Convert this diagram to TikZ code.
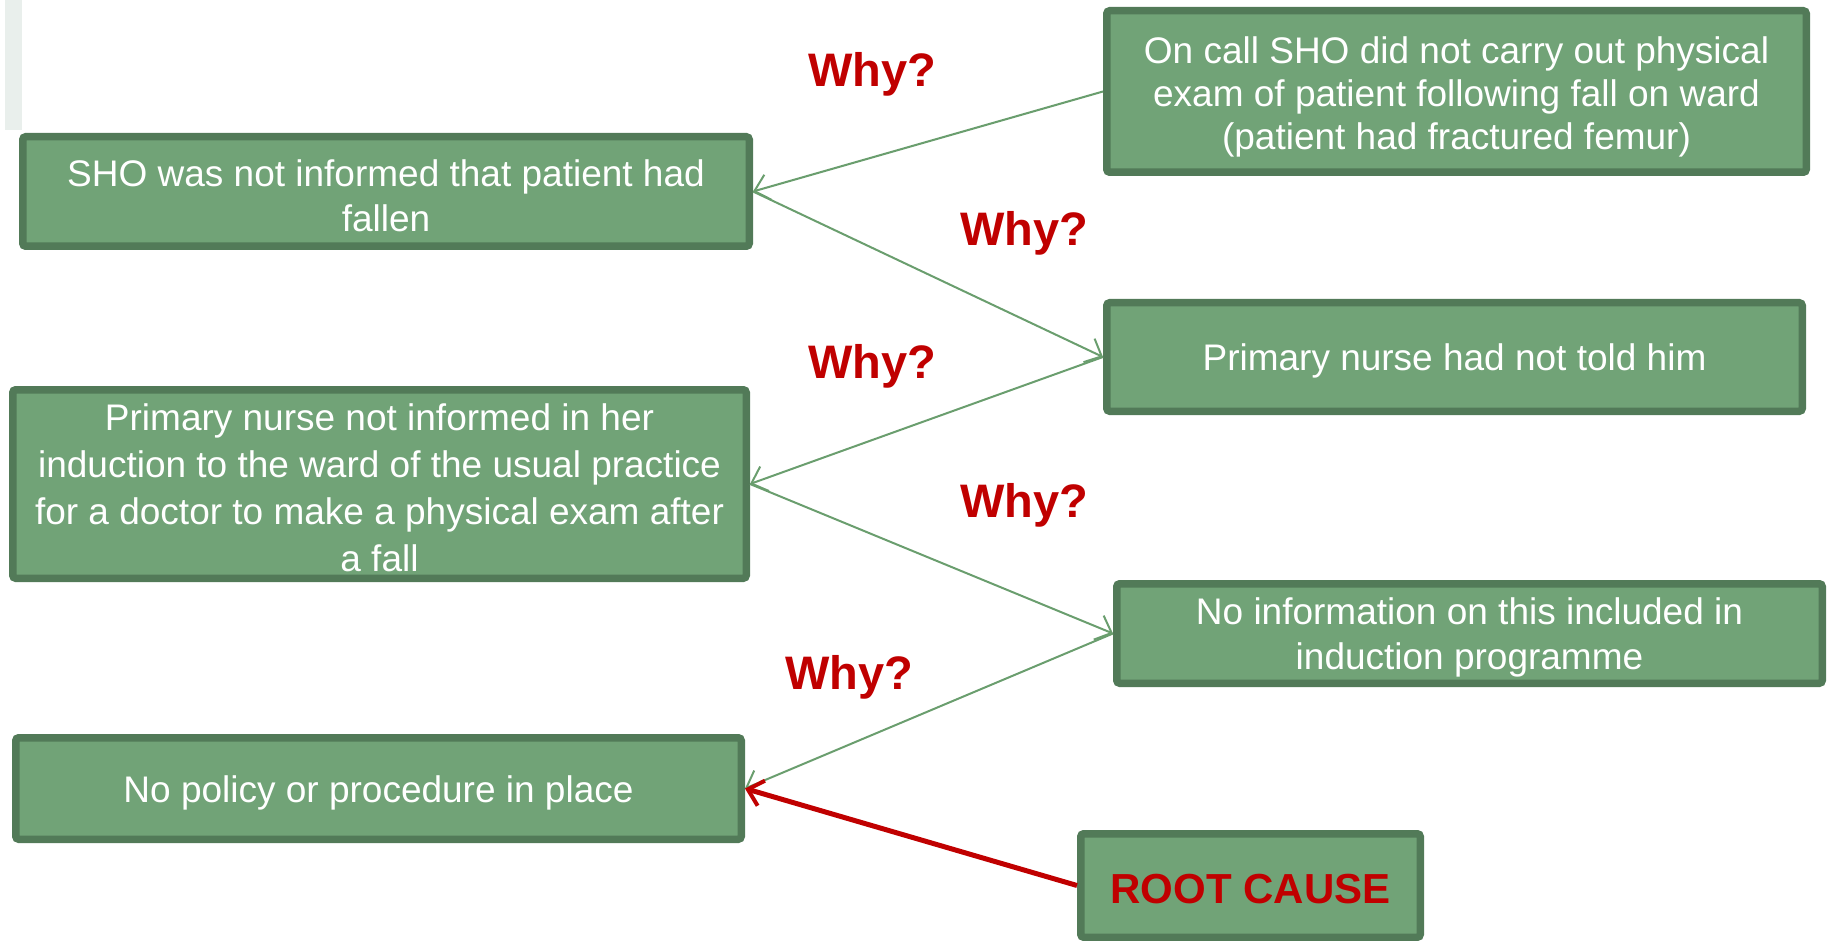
\documentclass[tikz,border=0pt]{standalone}
\usepackage{fontspec}
\setmainfont{Liberation Sans}
\usetikzlibrary{arrows.meta}

\definecolor{boxfill}{HTML}{71A377}
\definecolor{boxline}{HTML}{527A58}
\definecolor{linkgreen}{HTML}{6A9E6E}
\definecolor{whyred}{HTML}{C00000}
\definecolor{sidebar}{HTML}{E9EFEC}

\tikzset{
  causebox/.style={draw=boxline, fill=boxfill, line width=7.5pt,
    rounded corners=3pt, inner sep=0pt},
  causetext/.style={text=white, align=center, inner sep=0pt, yshift=-4pt,
    font=\fontsize{37}{45}\selectfont},
  roottext/.style={text=whyred, inner sep=0pt, yshift=-4pt,
    font=\fontsize{42}{48}\selectfont\bfseries},
  whylabel/.style={anchor=base west, inner sep=0pt, text=whyred,
    font=\fontsize{47}{52}\selectfont\bfseries},
  link/.style={draw=linkgreen, line width=2pt,
    -{Straight Barb[length=14pt,width=26pt,line width=2pt]}},
  rootlink/.style={draw=whyred, line width=5pt,
    -{Straight Barb[length=14pt,width=26pt,line width=4pt]}}
}

\begin{document}
\begin{tikzpicture}[x=1pt,y=-1pt]
\useasboundingbox (0,0) rectangle (1829,941);

% faint side bar in the top left corner
\fill[sidebar] (5,0) rectangle (22,130);

% cause chain boxes, each with its text as a centred label
\node[causebox, minimum width=699.5pt, minimum height=161.5pt,
  label={[name=shoexamtext, causetext, font=\fontsize{37}{43}\selectfont, yshift=-1pt]center:
  On call SHO did not carry out physical\\exam of patient following fall on ward\\(patient had fractured femur)}]
  (shoexam) at (1456.5,91.5) {};
\node[causebox, minimum width=726.5pt, minimum height=109.5pt,
  label={[name=notinformedtext, causetext]center:SHO was not informed that patient had\\fallen}]
  (notinformed) at (386,191.5) {};
\node[causebox, minimum width=695.5pt, minimum height=108.5pt,
  label={[name=nursetext, causetext]center:Primary nurse had not told him}]
  (nurse) at (1454.5,357) {};
\node[causebox, minimum width=733.5pt, minimum height=188.5pt,
  label={[name=inductiontext, causetext, font=\fontsize{37}{47}\selectfont]center:
  Primary nurse not informed in her\\induction to the ward of the usual practice\\for a doctor to make a physical exam after\\a fall}]
  (induction) at (379.5,484) {};
\node[causebox, minimum width=705.5pt, minimum height=99.5pt,
  label={[name=noinfotext, causetext]center:No information on this included in\\induction programme}]
  (noinfo) at (1469.5,633.5) {};
\node[causebox, minimum width=725.5pt, minimum height=101.5pt,
  label={[name=nopolicytext, causetext]center:No policy or procedure in place}]
  (nopolicy) at (378.5,788.5) {};
\node[causebox, minimum width=339.5pt, minimum height=103.5pt,
  label={[name=roottextnode, roottext]center:ROOT CAUSE}]
  (root) at (1250.5,885.5) {};

% why labels
\node[whylabel] (why1) at (808,87) {Why?};
\node[whylabel] (why2) at (960,246) {Why?};
\node[whylabel] (why3) at (808,378) {Why?};
\node[whylabel] (why4) at (960,517) {Why?};
\node[whylabel] (why5) at (785,689) {Why?};

% connectors
\draw[link] (shoexam.west) -- (notinformed.east);
\draw[link] (notinformed.east) -- (nurse.west);
\draw[link] (nurse.west) -- (induction.east);
\draw[link] (induction.east) -- (noinfo.west);
\draw[link] (noinfo.west) -- (nopolicy.east);
\draw[rootlink] (root.west) -- (nopolicy.east);
\end{tikzpicture}
\end{document}
